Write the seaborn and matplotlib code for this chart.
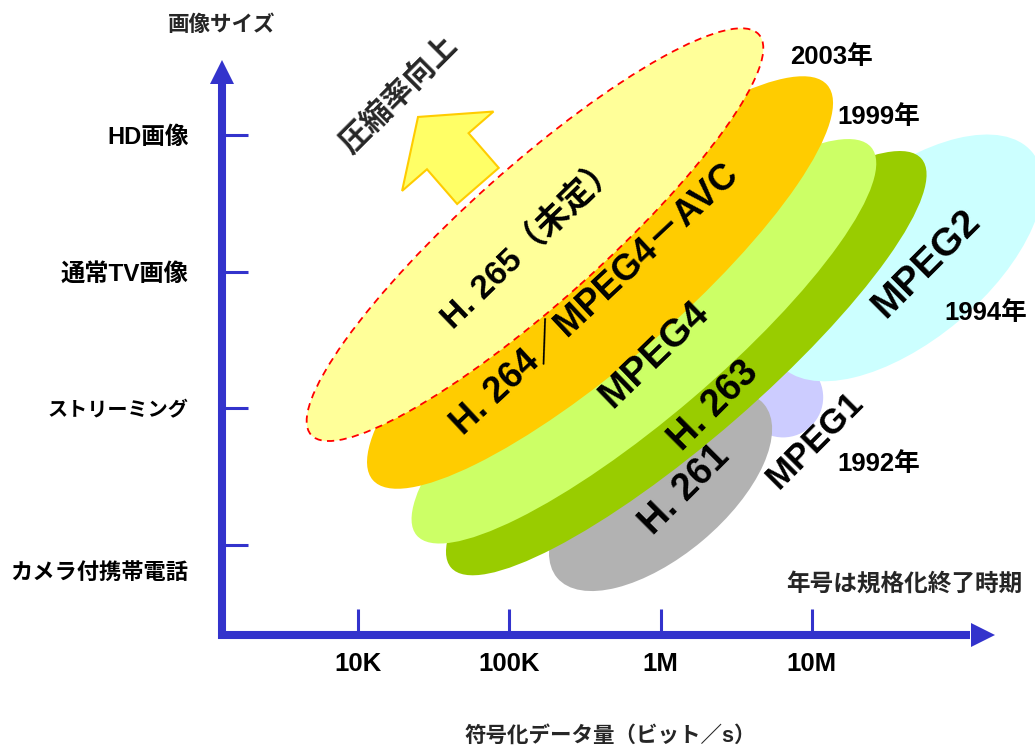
import numpy as np
import matplotlib
matplotlib.use("Agg")
import matplotlib.pyplot as plt
from matplotlib.patches import Ellipse, FancyArrow
from matplotlib.transforms import ScaledTranslation
import seaborn as sns

sns.set_theme(style="white")
FONTS = ["Liberation Sans", "Noto Sans CJK JP", "DejaVu Sans"]
plt.rcParams["font.family"] = FONTS
plt.rcParams["font.weight"] = "bold"

# ---- axes: x = log10(bit/s), y = picture-size level ----
rate_ticks = [4, 5, 6, 7]
rate_labels = ["10K", "100K", "1M", "10M"]
size_levels = [0, 1, 2, 3]
size_labels = ["カメラ付携帯電話", "ストリーミング", "通常TV画像", "HD画像"]
size_label_pt = [16, 14.5, 17.5, 17]

# ---- coding standards, listed back to front ----
codecs = ["MPEG1", "MPEG2", "H. 261", "H. 263", "MPEG4",
          "H. 264／MPEG4－AVC", "H. 265（未定）"]
center_rate = [6.81, 7.62, 6.00, 6.17, 5.89, 5.60, 5.17]     # log10(bit/s)
center_level = [1.08, 2.10, 0.395, 1.33, 1.49, 1.92, 2.27]
span_long = [0.53, 2.18, 1.785, 4.12, 3.95, 3.98, 3.97]      # decades
span_short = [0.53, 1.09, 0.86, 0.99, 0.99, 1.04, 0.89]
tilt = [0, 40, 40, 41, 40.5, 41, 41.8]
fill_colors = ["#CCCCFF", "#CCFFFF", "#B2B2B2", "#99CC00",
               "#CCFF66", "#FFCC00", "#FFFF99"]

label_rate = [7.02, 7.76, 6.16, 6.35, 5.96, 5.57, 5.14]
label_level = [0.77, 2.06, 0.40, 1.02, 1.39, 1.79, 2.21]
label_rot = [45, 45, 45, 45, 44, 43, 44]
label_size = [25, 28, 27, 27, 28, 26, 24]

# ---- completion years ----
years = ["1992年", "1994年", "1999年", "2003年"]
year_rate = [7.44, 8.15, 7.44, 7.13]
year_level = [0.59, 1.70, 3.13, 3.57]

# picture-size level spacing expressed in decades (keeps circles round)
LEVEL_STEP = 136.7 / 151.3


def ly(level):
    return np.asarray(level) * LEVEL_STEP


fig = plt.figure(figsize=(10.35, 7.48), dpi=100)
ax = fig.add_axes([0, 0, 1, 1])
ax.set_xlim(1.634, 8.475)
ax.set_ylim(-1.342, 3.602)
ax.set_facecolor("white")
ax.grid(False)

axis_blue = "#3333CC"
x0, y0 = 3.101, ly(-0.658)

for s in ["top", "right"]:
    ax.spines[s].set_visible(False)
for s in ["left", "bottom"]:
    ax.spines[s].set_color(axis_blue)
    ax.spines[s].set_linewidth(5.8)
    ax.spines[s].set_capstyle("butt")
ax.spines["left"].set_position(("data", x0))
ax.spines["bottom"].set_position(("data", y0))
ax.spines["left"].set_bounds(y0 - 0.026, ly(3.372))
ax.spines["bottom"].set_bounds(x0 - 0.026, 8.045)

ax.set_xticks(rate_ticks)
ax.set_xticklabels(rate_labels)
ax.set_yticks(ly(size_levels))
ax.set_yticklabels(size_labels)
ax.tick_params(axis="both", direction="in", length=19, width=2.2,
               color=axis_blue, labelcolor="black")
ax.tick_params(axis="x", pad=12, bottom=True, labelsize=18.5)
ax.tick_params(axis="y", pad=24, left=True)
for lab in ax.get_xticklabels() + ax.get_yticklabels():
    lab.set_fontweight("bold")
for lab, pt in zip(ax.get_yticklabels(), size_label_pt):
    lab.set_fontsize(pt)
# the handset label sits a little below its tick
low = ax.get_yticklabels()[0]
low.set_transform(low.get_transform() + ScaledTranslation(0, -0.26, fig.dpi_scale_trans))

# arrow heads of the two axes
ax.plot([x0], [3.123], marker="^", ms=16.6, color=axis_blue, mew=0, clip_on=False)
ax.plot([8.128], [y0], marker=">", ms=16.6, color=axis_blue, mew=0, clip_on=False)

# ---- ellipses ----
for i, name in enumerate(codecs):
    dashed = name.startswith("H. 265")
    e = Ellipse((center_rate[i], ly(center_level[i])), span_long[i], span_short[i],
                angle=tilt[i], facecolor=fill_colors[i],
                edgecolor="#FF0000" if dashed else "none",
                linestyle=(0, (4, 3)) if dashed else "-",
                linewidth=1.3 if dashed else 0, zorder=2 + i)
    ax.add_patch(e)
    ax.text(label_rate[i], ly(label_level[i]), name, rotation=label_rot[i],
            rotation_mode="anchor", ha="center", va="center",
            fontsize=label_size[i], fontweight="bold", color="black", zorder=20)

for t, xr, yl in zip(years, year_rate, year_level):
    ax.text(xr, ly(yl), t, ha="center", va="center", fontsize=18.5,
            fontweight="bold", color="black", zorder=20)

# compression arrow
ax.add_patch(FancyArrow(4.793, 2.373, -0.396, 0.456, width=0.364,
                        head_width=0.80, head_length=0.30,
                        length_includes_head=True, facecolor="#FFFF66",
                        edgecolor="#FFCC00", linewidth=1.5, zorder=15))
ax.text(4.278, ly(3.292), "圧縮率向上", rotation=45, rotation_mode="anchor",
        ha="center", va="center", fontsize=22, fontweight="bold", zorder=20)

# titles and note
ax.text(x0, ly(3.80), "画像サイズ", ha="center", va="center",
        fontsize=15.5, fontweight="bold")
ax.text(5.67, ly(-1.40), "符号化データ量（ビット／s）", ha="center", va="center",
        fontsize=15.5, fontweight="bold")
ax.text(7.61, ly(-0.29), "年号は規格化終了時期", ha="center", va="center",
        fontsize=17, fontweight="bold")

fig.savefig("out.png", dpi=100, facecolor="white")
